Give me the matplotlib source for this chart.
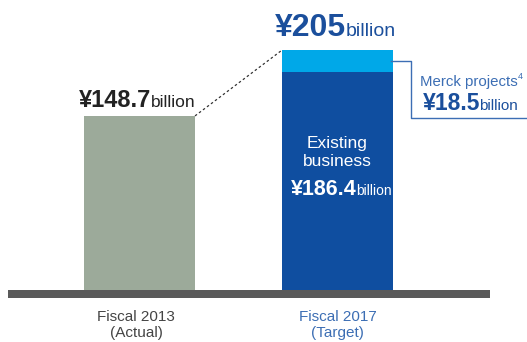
import matplotlib.pyplot as plt

plt.rcParams['font.family'] = ['Liberation Sans', 'DejaVu Sans']

# Revenue in billions of yen
years = ['Fiscal 2013\n(Actual)', 'Fiscal 2017\n(Target)']
actual_2013 = 148.7
existing_2017 = 186.4
merck_2017 = 18.5
total_2017 = 205

gray = '#9caa9a'
navy = '#0f4ea0'
sky = '#00a8e8'
label_blue = '#1b4f9c'
soft_blue = '#3c6eb4'

fig = plt.figure(figsize=(5.27, 3.42), dpi=100)
ax = fig.add_axes([0, 0, 1, 1])

# pixel scale: 205 billion spans 240 px, baseline at 290 px from top
s = 240 / total_2017
ax.set_xlim(0, 527)
ax.set_ylim(-52 / s, 290 / s)
ax.axis('off')


def py(y):
    return (290 - y) / s


xs = [139.5, 337.5]
w = 111

ax.bar(xs[0], actual_2013, width=w, color=gray, zorder=2)
ax.bar(xs[1], existing_2017, width=w, color=navy, zorder=2)
ax.bar(xs[1], merck_2017, bottom=existing_2017, width=w, color=sky, zorder=2)

# baseline strip
ax.fill_between([8, 490], py(298), 0, color='#5a5a5a', lw=0, zorder=3)

# dashed connector between bar tops
ax.plot([xs[0] + w / 2, xs[1] - w / 2], [actual_2013, existing_2017 + merck_2017],
        ls=(0, (2, 2)), color='#333333', lw=0.9, zorder=1)

# bracket to the Merck label
mid = existing_2017 + merck_2017 / 2
ax.plot([xs[1] + w / 2 - 2, 411, 411, 527], [mid, mid, py(118), py(118)],
        color=soft_blue, lw=1.0, zorder=4)

# value labels
ax.text(346, py(36), f'¥{total_2017}', ha='right', va='baseline',
        fontsize=23, fontweight='bold', color=label_blue)
ax.text(346, py(36), 'billion', ha='left', va='baseline',
        fontsize=14, color=label_blue)

ax.text(151, py(107), f'¥{actual_2013}', ha='right', va='baseline',
        fontsize=17, fontweight='bold', color='#222222')
ax.text(151, py(107), 'billion', ha='left', va='baseline',
        fontsize=12.5, color='#222222')

ax.text(420, py(86), 'Merck projects', ha='left', va='baseline',
        fontsize=10.8, color=soft_blue)
ax.text(518, py(79), '4', ha='left', va='baseline', fontsize=6.5, color=soft_blue)
ax.text(480, py(110), f'¥{merck_2017}', ha='right', va='baseline',
        fontsize=16.5, fontweight='bold', color=label_blue)
ax.text(479, py(110), 'billion', ha='left', va='baseline',
        fontsize=11, color=label_blue)

ax.text(xs[1], py(148), 'Existing', ha='center', va='baseline',
        fontsize=12.5, color='white', zorder=5)
ax.text(xs[1], py(166), 'business', ha='center', va='baseline',
        fontsize=12.5, color='white', zorder=5)
ax.text(357, py(195), f'¥{existing_2017}', ha='right', va='baseline',
        fontsize=15.5, fontweight='bold', color='white', zorder=5)
ax.text(356, py(195), 'billion', ha='left', va='baseline',
        fontsize=10, color='white', zorder=5)

# category labels
ax.text(136, py(325), years[0], ha='center', va='center',
        fontsize=11, color='#444444', linespacing=1.2)
ax.text(xs[1], py(325), years[1], ha='center', va='center',
        fontsize=11, color=soft_blue, linespacing=1.2)

fig.savefig('out.png', dpi=100)
